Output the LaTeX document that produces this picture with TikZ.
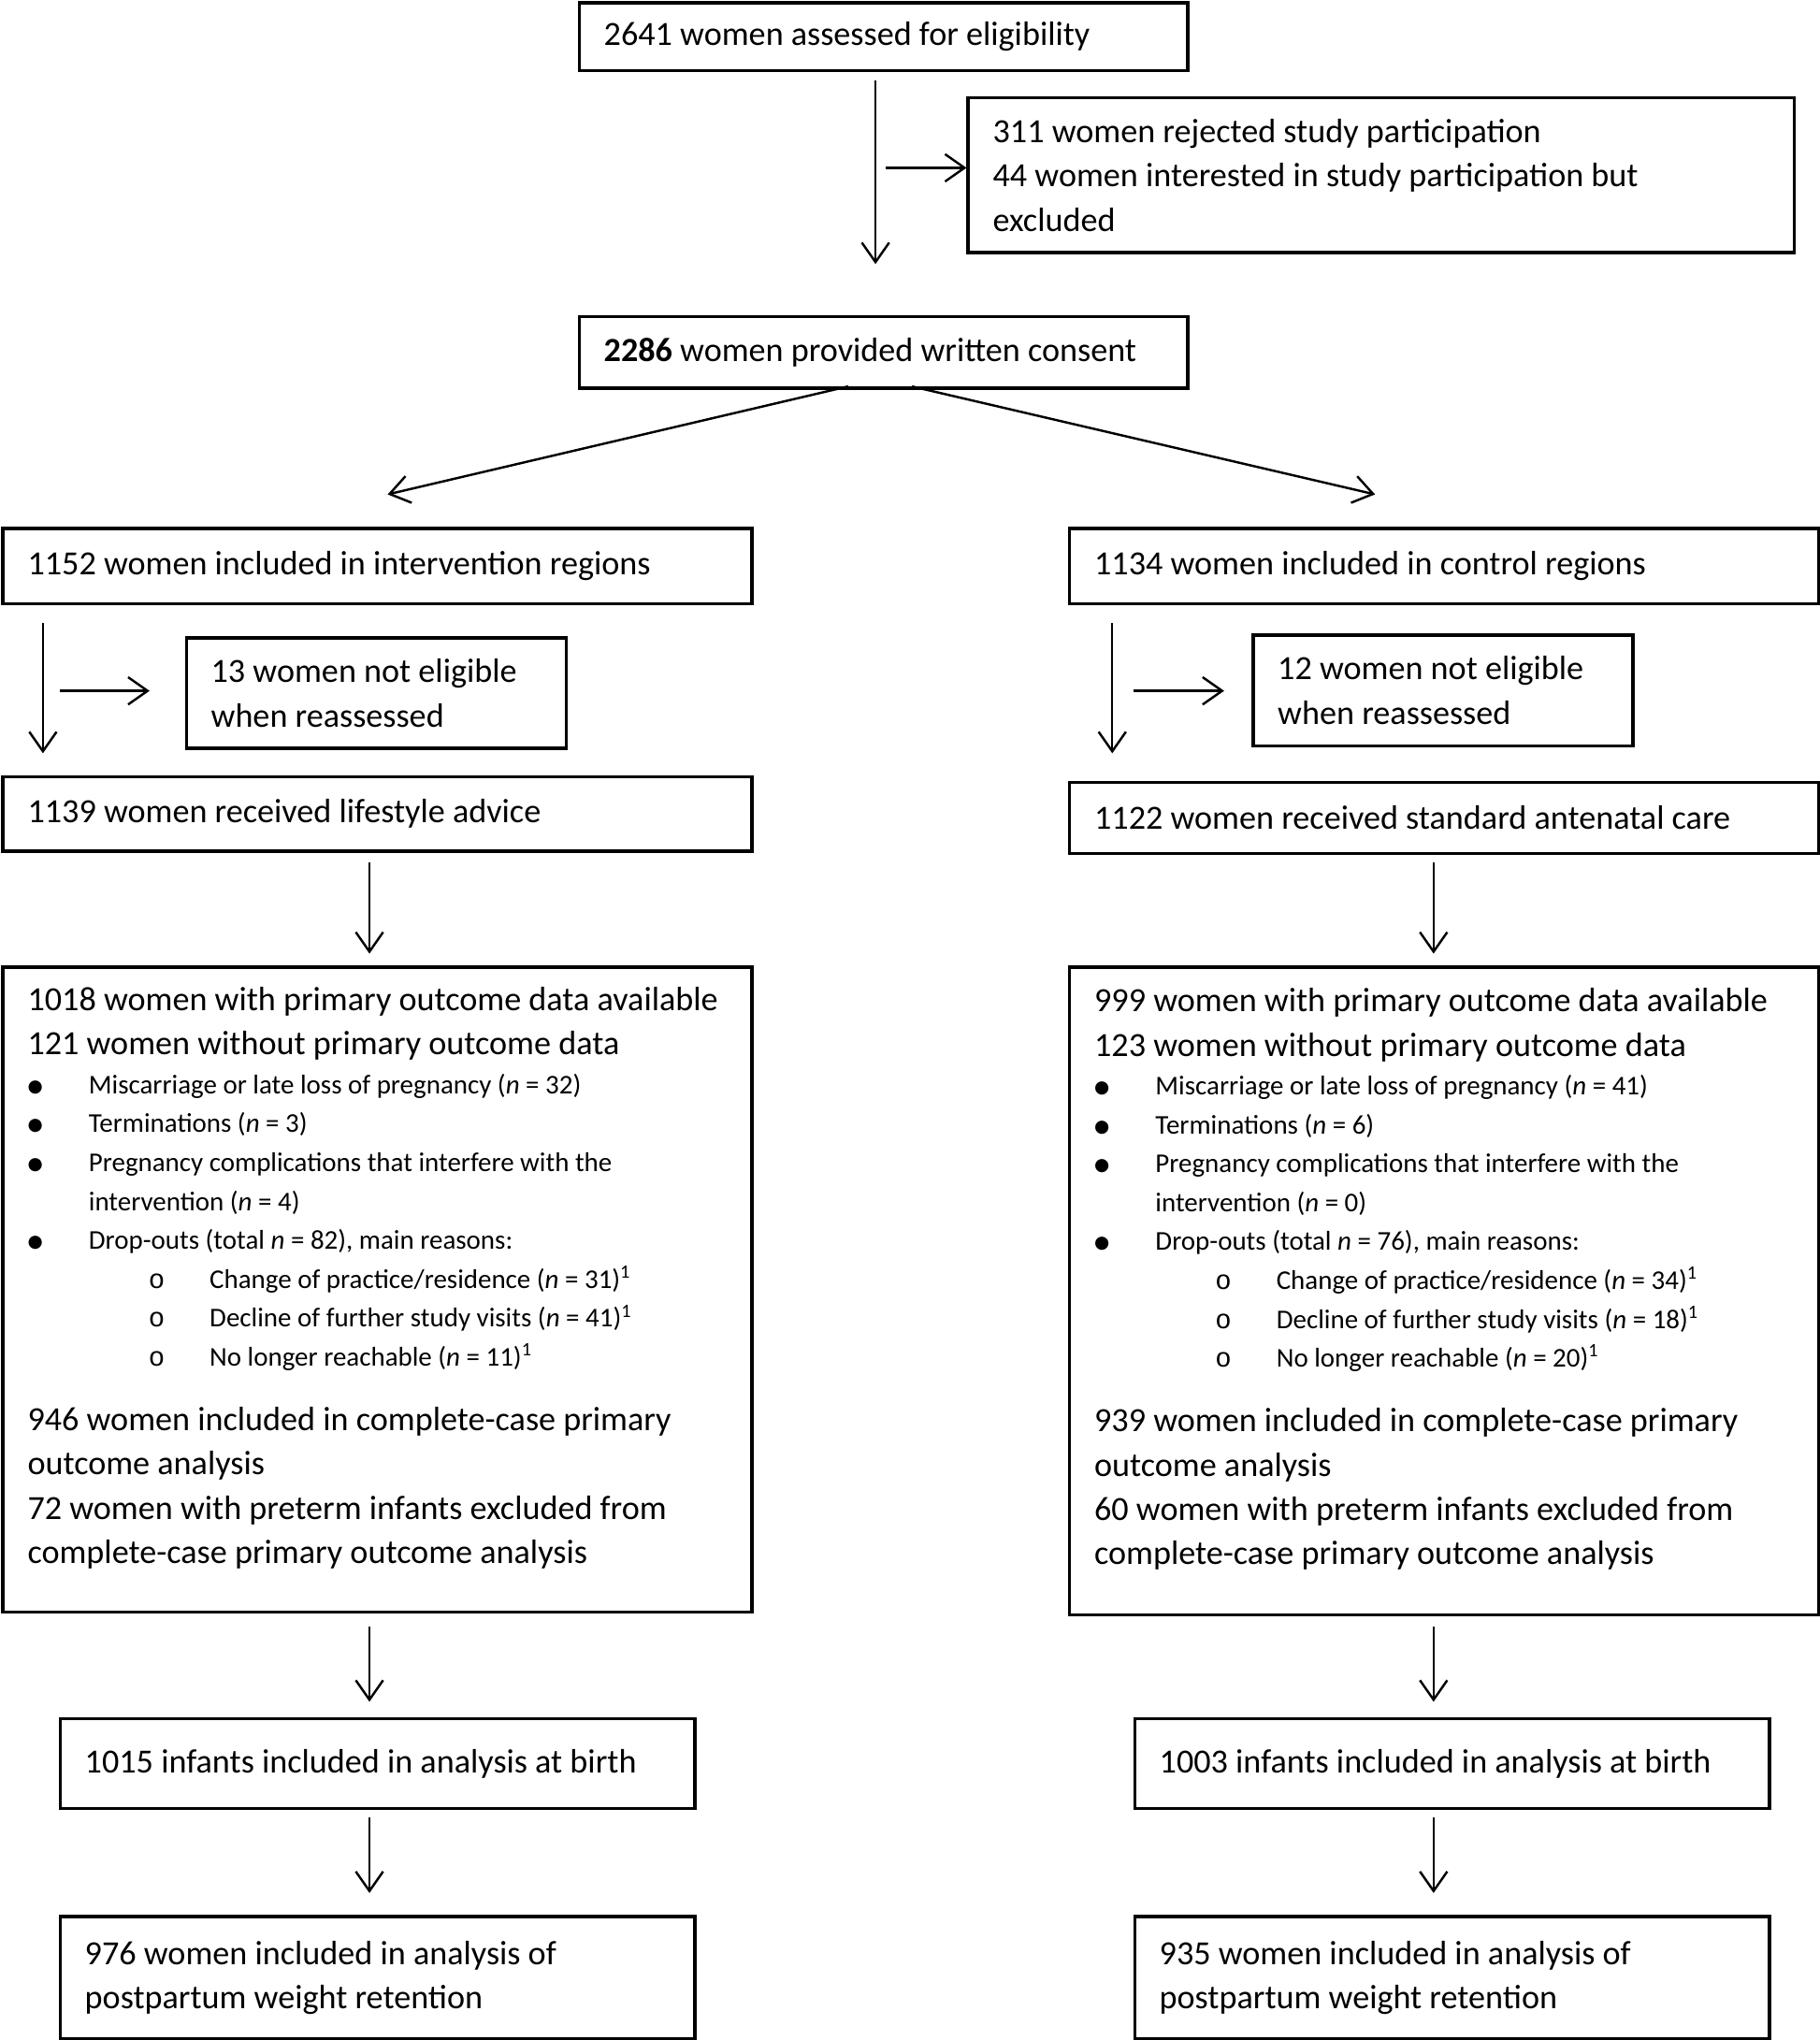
\documentclass[tikz,border=0pt]{standalone}
\usepackage{fontspec}
\setmainfont{Carlito}
\newfontfamily\circfont{Liberation Mono}
\newfontfamily\dotfont{DejaVu Sans}
\usetikzlibrary{arrows.meta}
\setlength{\parindent}{0pt}
\setlength{\parskip}{0pt}
\newcommand{\bigsz}{\fontsize{14.8pt}{19.35pt}\selectfont\spaceskip=0pt\xspaceskip=0pt}
\newcommand{\smallsz}{\fontsize{11.85pt}{17pt}\selectfont\spaceskip=0pt\xspaceskip=0pt}
\newcommand{\bul}{\makebox[0.94cm][l]{\raisebox{0.9pt}{\dotfont\fontsize{7.6pt}{7.6pt}\selectfont ●}}}
\newcommand{\subbul}{\hspace*{1.86cm}\makebox[0.94cm][l]{\circfont o}}
\newcommand{\nv}{\textit{n}}

\begin{document}
\begin{tikzpicture}[x=0.02cm,y=-0.02cm,font=\bigsz,
  box/.style={draw,line width=1.4pt,anchor=north west,inner xsep=0.38cm,inner ysep=0pt,
    execute at begin node={\spaceskip=0pt\xspaceskip=0pt}},
  arr/.style={-{Straight Barb[length=0.3cm,width=0.42cm]},line width=1pt}]
\useasboundingbox (0,0) rectangle (1399,1568);

\node[box,text width=8.6cm,minimum height=1.04cm] (elig) at (444,1) {2641 women assessed for eligibility};
\node[box,text width=11.94cm,minimum height=2.38cm] (excl) at (743,74) {311 women rejected study participation\\
44 women interested in study participation but\\
excluded};
\node[box,text width=8.6cm,minimum height=1.1cm] (cons) at (444,242) {\textbf{2286} women provided written consent};

\node[box,text width=10.76cm,minimum height=1.16cm] (incInt) at (1,405) {1152 women included in intervention regions};
\node[box,text width=10.76cm,minimum height=1.16cm] (incCon) at (821,405) {1134 women included in control regions};

\node[box,text width=5.08cm,minimum height=1.7cm] (nelInt) at (142,489) {13 women not eligible\\when reassessed};
\node[box,text width=5.08cm,minimum height=1.7cm] (nelCon) at (962,487) {12 women not eligible\\when reassessed};

\node[box,text width=10.76cm,minimum height=1.14cm] (recInt) at (1,596) {1139 women received lifestyle advice};
\node[box,text width=10.76cm,minimum height=1.1cm] (recCon) at (821,600) {1122 women received standard antenatal care};

\node[box,text width=10.76cm,minimum height=9.92cm] (outInt) at (1,742) {%
\mbox{1018 women with primary outcome data available}\\
121 women without primary outcome data\par
\smallsz
\bul Miscarriage or late loss of pregnancy (\nv{} = 32)\\
\bul Terminations (\nv{} = 3)\\
\bul Pregnancy complications that interfere with the\\
\hspace*{0.94cm}intervention (\nv{} = 4)\\
\bul Drop-outs (total \nv{} = 82), main reasons:\\
\subbul Change of practice/residence (\nv{} = 31)\textsuperscript{1}\\
\subbul Decline of further study visits (\nv{} = 41)\textsuperscript{1}\\
\subbul No longer reachable (\nv{} = 11)\textsuperscript{1}\par
\bigsz\vspace{9pt}%
946 women included in complete-case primary\\
outcome analysis\\
72 women with preterm infants excluded from\\
complete-case primary outcome analysis\rule[-0.44cm]{0pt}{0pt}};
\node[box,text width=10.76cm,minimum height=9.96cm] (outCon) at (821,742) {%
\mbox{999 women with primary outcome data available}\\
123 women without primary outcome data\par
\smallsz
\bul Miscarriage or late loss of pregnancy (\nv{} = 41)\\
\bul Terminations (\nv{} = 6)\\
\bul Pregnancy complications that interfere with the\\
\hspace*{0.94cm}intervention (\nv{} = 0)\\
\bul Drop-outs (total \nv{} = 76), main reasons:\\
\subbul Change of practice/residence (\nv{} = 34)\textsuperscript{1}\\
\subbul Decline of further study visits (\nv{} = 18)\textsuperscript{1}\\
\subbul No longer reachable (\nv{} = 20)\textsuperscript{1}\par
\bigsz\vspace{9pt}%
939 women included in complete-case primary\\
outcome analysis\\
60 women with preterm infants excluded from\\
complete-case primary outcome analysis\rule[-0.44cm]{0pt}{0pt}};

\node[box,text width=9cm,minimum height=1.38cm] (birInt) at (45,1320) {1015 infants included in analysis at birth};
\node[box,text width=9cm,minimum height=1.38cm] (birCon) at (871,1320) {1003 infants included in analysis at birth};

\node[box,text width=9cm,minimum height=1.88cm] (ppwInt) at (45,1472) {976 women included in analysis of\\postpartum weight retention};
\node[box,text width=9cm,minimum height=1.88cm] (ppwCon) at (871,1472) {935 women included in analysis of\\postpartum weight retention};

\coordinate (top1) at (673,62);
\coordinate (top2) at (673,203);
\coordinate (side) at (681,129);
\coordinate (splL) at (652,297);
\coordinate (splR) at (701,297);
\coordinate (endL) at (298,380);
\coordinate (endR) at (1057,380);
\coordinate (vInt1) at (33,479);
\coordinate (vInt2) at (33,579);
\coordinate (hInt1) at (46,531);
\coordinate (hInt2) at (115,531);
\coordinate (vCon1) at (855,479);
\coordinate (vCon2) at (855,579);
\coordinate (hCon1) at (871,531);
\coordinate (hCon2) at (941,531);

\draw[arr] (top1) -- (top2);
\draw[arr] (side) -- (side -| excl.west);
\draw[arr] (splL) -- (endL);
\draw[arr] (splR) -- (endR);
\draw[arr] (vInt1) -- (vInt2);
\draw[arr] (hInt1) -- (hInt2);
\draw[arr] (vCon1) -- (vCon2);
\draw[arr] (hCon1) -- (hCon2);

\foreach \x/\s in {284/Int,1102/Con} {
  \draw[arr] (\x,663) -- (\x,733);
  \draw[arr] (\x,1250) -- (\x,1308);
  \draw[arr] (\x,1397) -- (\x,1455);
}
\end{tikzpicture}
\end{document}
